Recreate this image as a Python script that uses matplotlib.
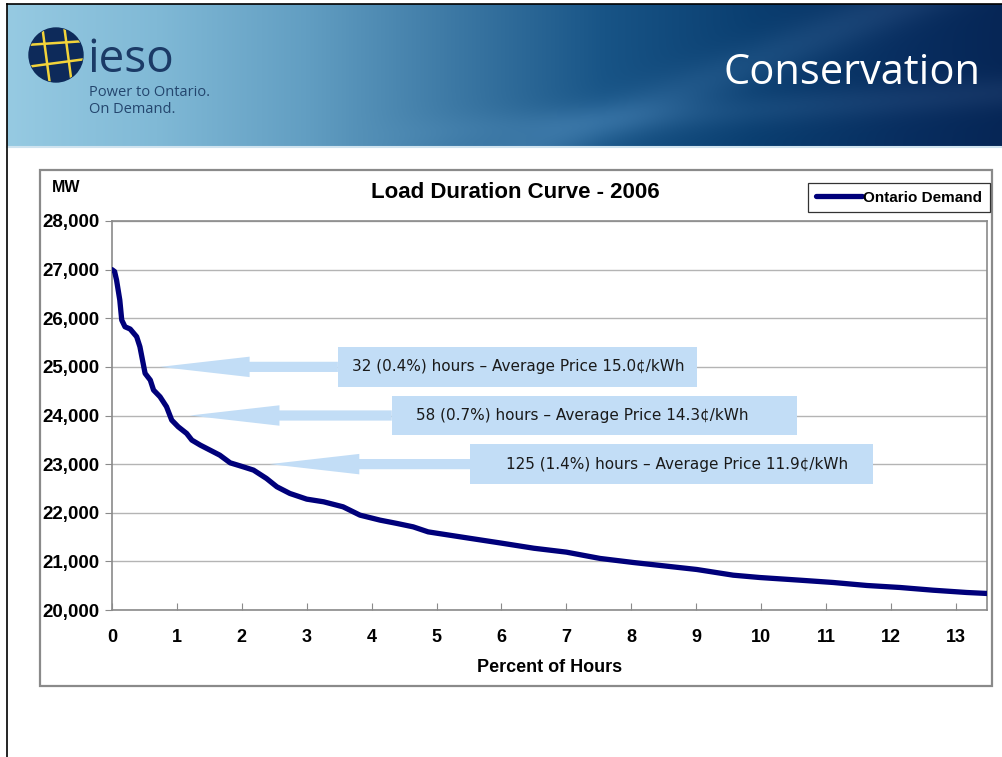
import numpy as np
import matplotlib
matplotlib.use("Agg")
import matplotlib.pyplot as plt
from matplotlib.patches import Rectangle, Polygon, Circle
from matplotlib.lines import Line2D
from matplotlib.ticker import FuncFormatter

# ---------------- data ----------------
pct_hours = [0.0, 0.04, 0.07, 0.12, 0.15, 0.20, 0.28, 0.38, 0.43, 0.46, 0.51, 0.59,
             0.64, 0.74, 0.84, 0.92, 1.02, 1.15, 1.23, 1.36, 1.51, 1.66, 1.82, 2.02,
             2.18, 2.38, 2.54, 2.74, 3.00, 3.26, 3.56, 3.82, 4.13, 4.39, 4.64, 4.87,
             5.00, 5.50, 6.00, 6.50, 7.00, 7.52, 8.03, 8.55, 9.01, 9.57, 9.98, 10.60,
             11.11, 11.63, 12.14, 12.65, 13.17, 13.48]
demand_mw = [27000, 26960, 26786, 26375, 25963, 25825, 25778, 25620, 25414, 25208,
             24866, 24728, 24523, 24385, 24180, 23905, 23768, 23631, 23494, 23391,
             23288, 23185, 23027, 22945, 22877, 22705, 22534, 22397, 22280, 22225,
             22122, 21951, 21848, 21780, 21710, 21607, 21580, 21477, 21375, 21270,
             21190, 21060, 20977, 20901, 20833, 20716, 20668, 20613, 20566, 20504,
             20463, 20407, 20360, 20340]
series_name = "Ontario Demand"

callout_labels = ["32 (0.4%) hours \u2013 Average Price 15.0\u00a2/kWh",
                  "58 (0.7%) hours \u2013 Average Price 14.3\u00a2/kWh",
                  "125 (1.4%) hours \u2013 Average Price 11.9\u00a2/kWh"]
callout_mw = [25000, 24000, 23000]

x_ticks = list(range(0, 14))
y_ticks = [20000, 21000, 22000, 23000, 24000, 25000, 26000, 27000, 28000]

# ---------------- layout / style ----------------
W, H = 1003, 757
fig = plt.figure(figsize=(W / 100, H / 100), dpi=100)
fig.patch.set_facecolor("white")

def fx(px):
    return px / W

def fy(py):
    return 1 - py / H

# banner
bax = fig.add_axes([fx(7), fy(146), fx(996), 142 / H])
bax.set_axis_off()
nx, ny = 400, 60
xs = np.linspace(0, 1, nx)
ys = np.linspace(0, 1, ny)
key_x = [0.0, 0.15, 0.30, 0.45, 0.60, 0.75, 0.90, 1.0]
key_c = np.array([[150, 202, 226], [128, 185, 214], [98, 158, 194], [60, 120, 164],
                  [24, 84, 134], [10, 62, 112], [8, 46, 96], [6, 38, 86]]) / 255.0
img = np.zeros((ny, nx, 3))
for c in range(3):
    row = np.interp(xs, key_x, key_c[:, c])
    img[:, :, c] = row[None, :]
XX, YY = np.meshgrid(xs, ys)
band = np.exp(-((XX - 0.72 + 0.35 * (YY - 0.5)) / 0.06) ** 2) * 0.06
band2 = np.exp(-((YY - 0.85 + 0.5 * (XX - 0.55)) / 0.12) ** 2) * 0.05 \
    * np.clip((XX - 0.35) / 0.2, 0, 1)
img = np.clip(img + band[:, :, None] + band2[:, :, None], 0, 1)
bax.imshow(img, aspect="auto", extent=[0, 1, 1, 0], interpolation="bilinear")
bax.set_xlim(0, 1)
bax.set_ylim(1, 0)

fig.add_artist(Line2D([fx(7), 1], [fy(146.5), fy(146.5)], color="#cfe3ef", lw=1.5))

# logo
lax = fig.add_axes([fx(24), fy(87), fx(64), 64 / H])
lax.set_axis_off()
lax.set_xlim(-32, 32)
lax.set_ylim(-32, 32)
lax.set_aspect("equal")
circ = Circle((0, 0), 27, color="#0d2a5a")
lax.add_patch(circ)
for (x0, y0, x1, y1) in [(-14, 30, -6, -30), (8, 30, 16, -30),
                         (-30, 10, 30, 14), (-30, -12, 30, -4)]:
    ln = Line2D([x0, x1], [y0, y1], color="#f2d33a", lw=1.8)
    lax.add_line(ln)
    ln.set_clip_path(circ)

fig.text(fx(87), fy(72), "ieso", fontsize=33, color="#1b3a66", family="Open Sans",
         ha="left", va="baseline")
fig.text(fx(89), fy(96), "Power to Ontario.", fontsize=10.5, color="#24466e",
         family="Open Sans", ha="left", va="baseline")
fig.text(fx(89), fy(113), "On Demand.", fontsize=10.5, color="#24466e",
         family="Open Sans", ha="left", va="baseline")
fig.text(fx(981), fy(84), "Conservation", fontsize=30, color="white",
         family="Open Sans", ha="right", va="baseline")

# slide frame lines
fig.add_artist(Line2D([fx(7), fx(7)], [0, fy(4)], color="black", lw=1.2))
fig.add_artist(Line2D([fx(7), 1], [fy(4), fy(4)], color="black", lw=1.2))

# chart outer frame
fig.add_artist(Rectangle((fx(40), fy(686)), fx(952), (686 - 170) / H,
                         transform=fig.transFigure, fill=False,
                         edgecolor="#8a8a8a", lw=1.6))

# plot axes
ax = fig.add_axes([fx(112), fy(610), fx(987 - 112), (610 - 221) / H])
ax.set_xlim(0, 13.48)
ax.set_ylim(20000, 28000)
ax.set_xticks(x_ticks)
ax.set_yticks(y_ticks)
ax.yaxis.set_major_formatter(FuncFormatter(lambda v, p: f"{int(v):,}"))
ax.grid(axis="y", color="#b4b4b4", lw=1)
ax.set_axisbelow(True)
for s in ax.spines.values():
    s.set_color("#8a8a8a")
    s.set_linewidth(1.2)
ax.tick_params(axis="x", direction="in", length=5, color="#8a8a8a", pad=14,
               labelsize=13)
ax.tick_params(axis="y", direction="out", length=5, color="#8a8a8a", pad=4,
               labelsize=13.5)
for lab in ax.get_xticklabels() + ax.get_yticklabels():
    lab.set_family("Liberation Sans")
    lab.set_fontweight("bold")

line, = ax.plot(pct_hours, demand_mw, color="#00007a", lw=3.8,
                solid_capstyle="round", solid_joinstyle="round", zorder=5,
                label=series_name)

# callouts (arrow + text box)
arrow_tip_x = [0.74, 1.20, 2.43]
head_len = 1.38
box_left = [3.48, 4.31, 5.52]
box_right = [9.01, 10.55, 11.73]
text_x = [3.70, 4.68, 6.07]
box_half = 410
shaft_half = 105
head_half = 210
box_color = "#c2ddf6"
for lbl, yv, tx, bl, br, tx2 in zip(callout_labels, callout_mw, arrow_tip_x,
                                    box_left, box_right, text_x):
    hb = tx + head_len
    poly = Polygon([[tx, yv], [hb, yv + head_half], [hb, yv + shaft_half],
                    [bl, yv + shaft_half], [bl, yv - shaft_half],
                    [hb, yv - shaft_half], [hb, yv - head_half]],
                   closed=True, facecolor=box_color, edgecolor="none", zorder=3)
    ax.add_patch(poly)
    ax.add_patch(Rectangle((bl, yv - box_half), br - bl, 2 * box_half,
                           facecolor=box_color, edgecolor="none", zorder=3))
    ax.text(tx2, yv, lbl, fontsize=11, family="DejaVu Sans", color="#1a1a1a",
            ha="left", va="center", zorder=4)

# titles and labels
fig.text(fx(515), fy(193), "Load Duration Curve - 2006", fontsize=16,
         fontweight="bold", family="Liberation Sans", ha="center", va="center")
fig.text(fx(66), fy(187), "MW", fontsize=11.5, fontweight="bold",
         family="Liberation Sans", ha="center", va="center")
fig.text(fx(550), fy(668), "Percent of Hours", fontsize=13, fontweight="bold",
         family="Liberation Sans", ha="center", va="center")

leg = fig.legend(handles=[line], loc="upper right",
                 bbox_to_anchor=(fx(990), fy(183)), frameon=True, fancybox=False,
                 prop={"family": "Liberation Sans", "weight": "bold", "size": 11},
                 handlelength=3.0, handletextpad=0.1, borderpad=0.5,
                 borderaxespad=0)
leg.get_frame().set_edgecolor("black")
leg.get_frame().set_linewidth(0.9)

fig.savefig("out.png", dpi=100)
